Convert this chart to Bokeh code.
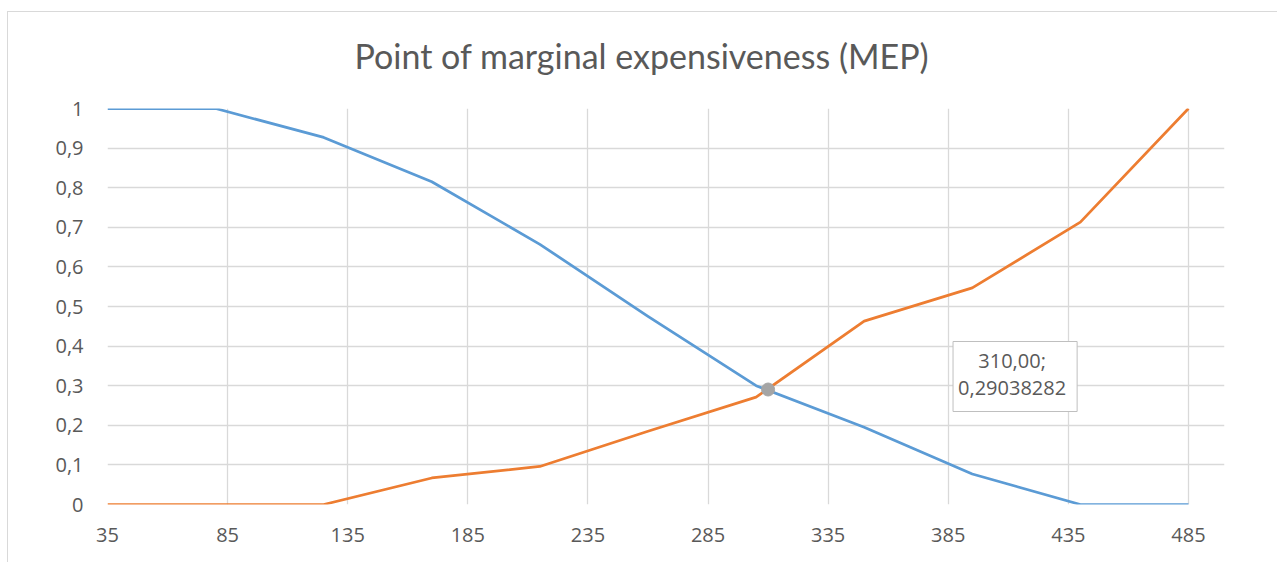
from bokeh.plotting import figure
from bokeh.models import Range1d, FixedTicker, CustomJSTickFormatter, Label, Title
from bokeh.embed import file_html
from bokeh.resources import INLINE

# ---- data ----
price = [35, 80, 125, 170, 215, 260, 305, 350, 395, 440, 485]
too_cheap = [1.0, 1.0, 0.927, 0.815, 0.657, 0.475, 0.300, 0.195, 0.077, 0.0, 0.0]
too_expensive = [0.0, 0.0, 0.0, 0.067, 0.096, 0.185, 0.271, 0.463, 0.547, 0.713, 1.0]
mep_x = 310.0
mep_y = 0.29038282
x_ticks = [35, 85, 135, 185, 235, 285, 335, 385, 435, 485]
y_ticks = [0, 0.1, 0.2, 0.3, 0.4, 0.5, 0.6, 0.7, 0.8, 0.9, 1]
title_text = "Point of marginal expensiveness (MEP)"

BLUE = "#5B9BD5"
ORANGE = "#ED7D31"
GREY = "#A5A5A5"
TEXT = "#595959"
GRID = "#D9D9D9"

p = figure(width=1270, height=551, x_range=Range1d(35, 500), y_range=Range1d(0, 1),
           output_backend="svg", toolbar_location=None,
           min_border_left=99, min_border_right=54, min_border_top=96, min_border_bottom=59,
           styles={"border-left": "1px solid #D9D9D9", "border-top": "1px solid #D9D9D9",
                   "margin-left": "7px", "margin-top": "11px"})
p.outline_line_color = None
p.background_fill_color = "white"
p.border_fill_color = "white"

# spacer between the title and the plot area (closest to the frame)
p.add_layout(Title(text=" ", text_font_size="1px", standoff=25), "above")
title = Title(text=title_text, align="left", offset=247, text_font="Lato",
              text_font_size="34px", text_font_style="normal", text_color=TEXT,
              standoff=10)
p.add_layout(title, "above")

p.xaxis.ticker = FixedTicker(ticks=x_ticks)
p.yaxis.ticker = FixedTicker(ticks=y_ticks)
p.yaxis.formatter = CustomJSTickFormatter(
    code="return tick.toFixed(1).replace(/\\.0$/, '').replace('.', ',');")

for ax in (p.xaxis, p.yaxis):
    ax.axis_line_color = None
    ax.major_tick_line_color = None
    ax.minor_tick_line_color = None
    ax.major_tick_out = 0
    ax.major_tick_in = 0
    ax.major_label_text_font = "Open Sans"
    ax.major_label_text_font_size = "20px"
    ax.major_label_text_color = TEXT
p.yaxis.major_label_standoff = 24
p.xaxis.major_label_standoff = 23

p.xgrid.grid_line_color = GRID
p.ygrid.grid_line_color = GRID
p.xgrid.grid_line_width = 1.3
p.ygrid.grid_line_width = 1.3

p.line(price, too_cheap, line_color=BLUE, line_width=2.75, line_join="round")
p.line(price, too_expensive, line_color=ORANGE, line_width=2.75, line_join="round")
p.scatter([mep_x], [mep_y], size=13, fill_color=GREY, line_color=GREY)

label_text = f"{mep_x:.2f};\n{mep_y:.8f}".replace(".", ",")
p.add_layout(Label(x=mep_x, y=mep_y, x_offset=247, y_offset=13, text=label_text,
                   text_align="center", text_baseline="middle",
                   text_font="Open Sans", text_font_size="20px", text_color=TEXT,
                   text_line_height=1.0,
                   background_fill_color="white", border_line_color="#BFBFBF",
                   border_line_width=1, padding=(5, 11, 5, 11)))

open("out.html", "w").write(file_html(p, INLINE))
